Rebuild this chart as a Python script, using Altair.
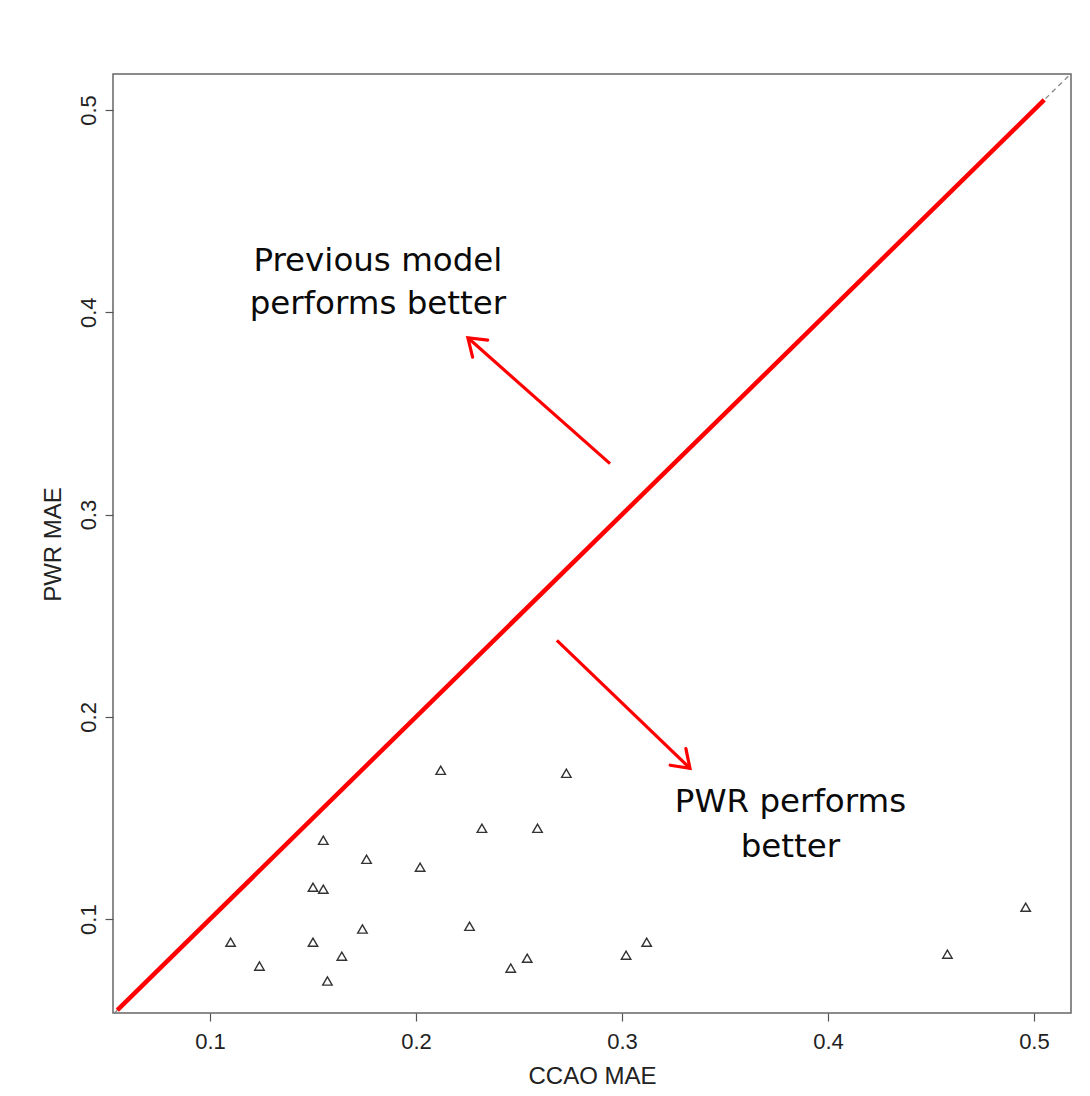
import altair as alt
import pandas as pd

# Scatter data (CCAO MAE vs PWR MAE)
ccao_mae = [0.110, 0.124, 0.155, 0.150, 0.155, 0.150, 0.157, 0.164, 0.176, 0.174, 0.202,
            0.212, 0.226, 0.232, 0.246, 0.254, 0.259, 0.273, 0.302, 0.312, 0.458, 0.496]
pwr_mae = [0.0886, 0.0768, 0.1390, 0.1158, 0.1148, 0.0886, 0.0694, 0.0817, 0.1296, 0.0951, 0.1257,
           0.1736, 0.0965, 0.1449, 0.0758, 0.0807, 0.1449, 0.1721, 0.0822, 0.0886, 0.0827, 0.1059]

x_ticks = [0.1, 0.2, 0.3, 0.4, 0.5]
y_ticks = [0.1, 0.2, 0.3, 0.4, 0.5]
x_domain = [0.0529, 0.5180]
y_domain = [0.0536, 0.5178]

# reference lines
identity_line = {"x": [0.0536], "y": [0.0536], "x2": [0.5178], "y2": [0.5178]}
red_line = {"x": [0.055], "y": [0.055], "x2": [0.505], "y2": [0.505]}

# annotation arrows (tail -> tip) and their head directions
arrow_tail_x = [0.2942, 0.2684]
arrow_tail_y = [0.3252, 0.2378]
arrow_tip_x = [0.2252, 0.3330]
arrow_tip_y = [0.3874, 0.1746]
arrow_head_angle = [311.6, 133.5]

# annotation texts
note_text = ["Previous model", "performs better", "PWR performs", "better"]
note_x = [0.1815, 0.1815, 0.3818, 0.3818]
note_y = [0.4205, 0.3993, 0.1528, 0.1306]

FONT = "Liberation Sans"


def X(field="x"):
    return alt.X(f"{field}:Q",
                 scale=alt.Scale(domain=x_domain, nice=False, zero=False),
                 axis=alt.Axis(values=x_ticks, format=".1f", title="CCAO MAE", grid=False,
                               domain=False, tickSize=8, tickColor="#555", tickWidth=1.2,
                               labelFont=FONT, labelFontSize=22, labelColor="#222",
                               labelBaseline="alphabetic", labelPadding=27,
                               titleFont=FONT, titleFontSize=24, titleFontWeight="normal",
                               titleColor="#222", titleBaseline="alphabetic",
                               titleX=479, titleY=70, titleAnchor="middle", titleAlign="center"))


def Y(field="y"):
    return alt.Y(f"{field}:Q",
                 scale=alt.Scale(domain=y_domain, nice=False, zero=False),
                 axis=alt.Axis(values=y_ticks, format=".1f", title="PWR MAE", grid=False,
                               domain=False, tickSize=8, tickColor="#555", tickWidth=1.2,
                               labelFont=FONT, labelFontSize=22, labelColor="#222",
                               labelAngle=-90, labelAlign="center", labelBaseline="alphabetic",
                               labelPadding=10,
                               titleFont=FONT, titleFontSize=24, titleFontWeight="normal",
                               titleColor="#222", titleAngle=-90, titleBaseline="alphabetic",
                               titleX=-53, titleY=470, titleAlign="center"))


pts = pd.DataFrame({"x": ccao_mae, "y": pwr_mae})
points = alt.Chart(pts).mark_point(shape="triangle-up", filled=False, size=90,
                                   stroke="#333", strokeWidth=1.4, opacity=1).encode(x=X(), y=Y())

dashed = alt.Chart(pd.DataFrame(identity_line)).mark_rule(
    color="#888", strokeWidth=1.3, strokeDash=[5, 4], clip=True
).encode(x=X(), y=Y(), x2="x2:Q", y2="y2:Q")

red = alt.Chart(pd.DataFrame(red_line)).mark_rule(
    color="#ff0000", strokeWidth=4.5
).encode(x=X(), y=Y(), x2="x2:Q", y2="y2:Q")

arrows_df = pd.DataFrame({"x": arrow_tail_x, "y": arrow_tail_y,
                          "x2": arrow_tip_x, "y2": arrow_tip_y})
arrows = alt.Chart(arrows_df).mark_rule(color="#ff0000", strokeWidth=3.2).encode(
    x=X(), y=Y(), x2="x2:Q", y2="y2:Q")

heads_df = pd.DataFrame({"x": arrow_tip_x, "y": arrow_tip_y, "angle": arrow_head_angle})
heads = alt.Chart(heads_df).mark_point(
    shape="M -0.57,0.82 L 0,0 L 0.57,0.82", filled=False, size=1600,
    stroke="#ff0000", strokeWidth=3.2, strokeCap="round", strokeJoin="miter", opacity=1
).encode(x=X(), y=Y(), angle=alt.Angle("angle:Q", scale=None))

notes_df = pd.DataFrame({"x": note_x, "y": note_y, "t": note_text})
notes = alt.Chart(notes_df).mark_text(
    font="DejaVu Sans", fontSize=32.5, color="#0a0a0a", align="center", baseline="alphabetic"
).encode(x=X(), y=Y(), text="t:N")

chart = alt.layer(dashed, red, arrows, heads, points, notes).properties(
    width=958, height=939,
    autosize=alt.AutoSizeParams(type="none"),
    padding={"left": 105, "top": 66, "right": 11, "bottom": 76},
    background="white",
).configure_view(stroke="#666", strokeWidth=1.5)

chart.save("out.html", embed_options={"renderer": "svg", "actions": False})
